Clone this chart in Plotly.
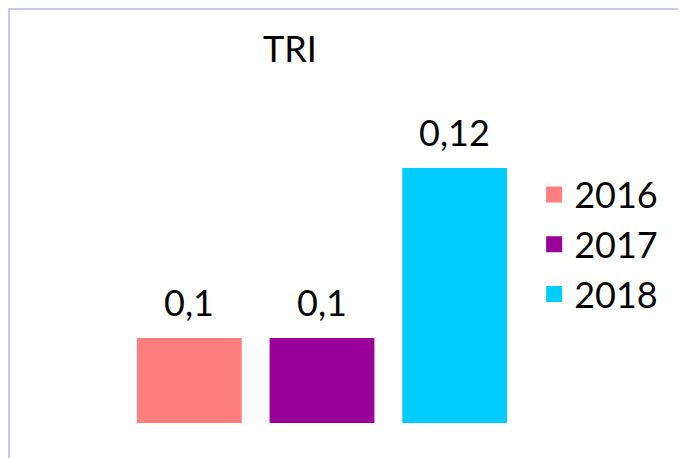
import plotly.graph_objects as go

years = ["2016", "2017", "2018"]
values = [0.10, 0.10, 0.12]
labels = ["0,1", "0,1", "0,12"]
colors = ["#FF7F7F", "#990099", "#00CCFF"]

FONT = "Lato, Open Sans, sans-serif"
W, H = 686, 458
ml, mr, mt, mb = 115, 173, 75, 43
base = 0.09

fig = go.Figure()
for yr, v, c in zip(years, values, colors):
    fig.add_trace(go.Bar(
        x=[yr], y=[v - base], base=[base], name=yr,
        marker=dict(color=c, line=dict(width=0)),
        width=0.79, showlegend=False, legendgroup=yr,
    ))
# legend entries with larger square swatches
for yr, c in zip(years, colors):
    fig.add_trace(go.Scatter(
        x=[None], y=[None], mode="markers", name=yr, legendgroup=yr,
        marker=dict(symbol="square", size=20, color=c, line=dict(width=0)),
    ))

for i, (v, t) in enumerate(zip(values, labels)):
    fig.add_annotation(x=i, y=v, xref="x", yref="y", text=t, showarrow=False,
                       yanchor="bottom", yshift=12,
                       font=dict(family=FONT, size=36, color="black"))

pw, ph = W - ml - mr, H - mt - mb
x0 = (1 - ml) / pw
x1 = (720 - ml) / pw
y0 = (H - mb - 1) / ph
y1 = (H - mb - 480) / ph
fig.add_shape(type="rect", xref="paper", yref="paper",
              x0=x0, x1=x1, y0=y1, y1=y0,
              line=dict(color="#C8C8FF", width=2), layer="below")

fig.update_layout(
    width=W, height=H,
    margin=dict(l=ml, r=mr, t=mt, b=mb),
    paper_bgcolor="white", plot_bgcolor="white",
    barmode="overlay",
    title=dict(text="TRI", x=282 / W, xanchor="center", y=1 - 41 / H, yanchor="middle",
               font=dict(family=FONT, size=36, color="black")),
    xaxis=dict(visible=False, type="category", range=[-0.5, 2.5]),
    yaxis=dict(visible=False, range=[base, 0.13]),
    legend=dict(x=1.033, xanchor="left", y=0.525, yanchor="middle",
                font=dict(family=FONT, size=36, color="black"),
                itemwidth=30, tracegroupgap=0, bgcolor="rgba(0,0,0,0)"),
    showlegend=True,
)

fig.write_html("out.html")
